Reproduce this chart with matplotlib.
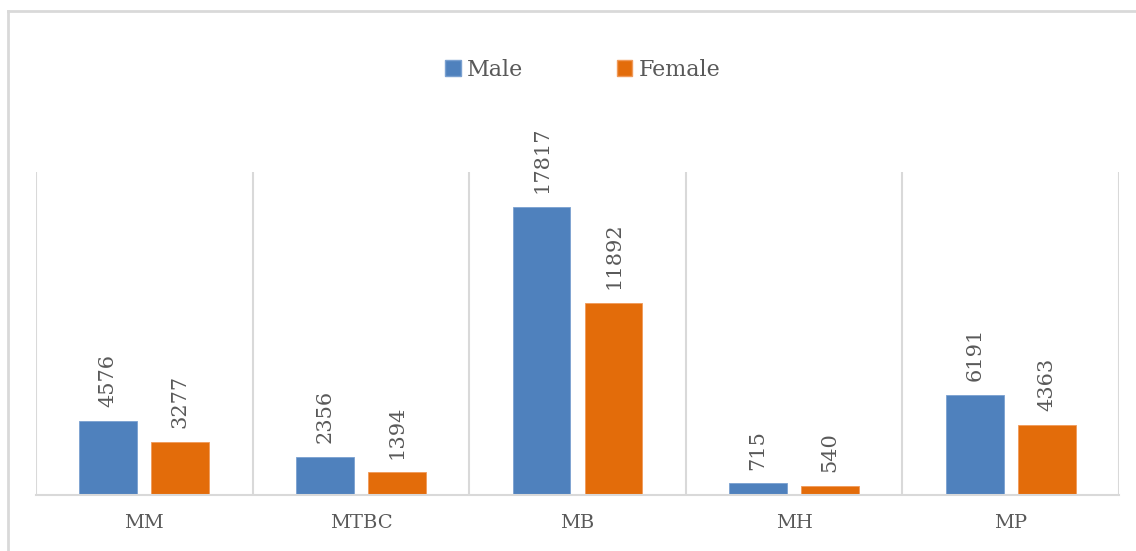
import numpy as np
import matplotlib.pyplot as plt
from matplotlib.lines import Line2D
from matplotlib.patches import Patch

categories = ['MM', 'MTBC', 'MB', 'MH', 'MP']
male = [4576, 2356, 17817, 715, 6191]
female = [3277, 1394, 11892, 540, 4363]

blue = '#4f81bd'
orange = '#e36c0a'
grid = '#d9d9d9'
text = '#595959'

plt.rcParams['font.family'] = ['DejaVu Serif']

W, H = 1136, 551
fig = plt.figure(figsize=(W / 100, H / 100), dpi=100)

# outer chart frame: only the top and left edges are inside the image
fx, fy = 7.5 / W, 1 - 11 / H
fig.add_artist(Line2D([fx, 1.0], [fy, fy], transform=fig.transFigure,
                      color=grid, linewidth=2))
fig.add_artist(Line2D([fx, fx], [0.0, fy], transform=fig.transFigure,
                      color=grid, linewidth=2))

ax = fig.add_axes([36 / W, 56 / H, (1119 - 36) / W, (495 - 172) / H])
x = np.arange(len(categories))
w = 0.267
off = 0.166
b1 = ax.bar(x - off, male, w, color=blue, edgecolor='#7aa0d0', linewidth=0.6)
b2 = ax.bar(x + off, female, w, color=orange, edgecolor='#f09a5a', linewidth=0.6)

for bars, vals in ((b1, male), (b2, female)):
    for r, v in zip(bars, vals):
        ax.annotate(str(v), (r.get_x() + r.get_width() / 2, v),
                    xytext=(0, 10), textcoords='offset points',
                    rotation=90, ha='center', va='bottom',
                    fontsize=15, color=text)

ax.set_xlim(-0.5, len(categories) - 0.5)
ax.set_ylim(0, 20000)

# category separators
for b in np.arange(-0.5, len(categories), 1.0):
    ax.axvline(b, color=grid, linewidth=1.5, zorder=0)

for s in ('top', 'left', 'right'):
    ax.spines[s].set_visible(False)
ax.spines['bottom'].set_color(grid)
ax.spines['bottom'].set_linewidth(1.5)
ax.set_yticks([])
ax.set_xticks(x)
ax.set_xticklabels(categories, fontsize=14, color=text)
ax.tick_params(axis='x', length=0, pad=14)

handles = [Patch(facecolor=blue, edgecolor='#7aa0d0'),
           Patch(facecolor=orange, edgecolor='#f09a5a')]
fig.legend(handles, ['Male', 'Female'], loc='center',
           bbox_to_anchor=(583 / W, 1 - 70 / H), ncol=2, frameon=False,
           fontsize=16, labelcolor=text, handlelength=0.7, handleheight=0.7,
           handletextpad=0.3, columnspacing=4.2)

fig.savefig('out.png', dpi=100)
